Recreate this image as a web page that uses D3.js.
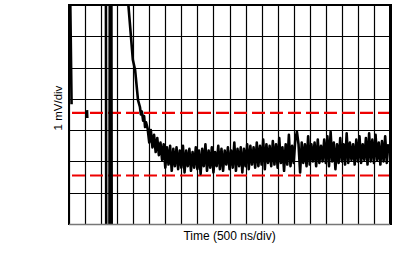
<!DOCTYPE html>
<html><head><meta charset="utf-8">
<script src="https://cdn.jsdelivr.net/npm/d3@7"></script>
<style>html,body{margin:0;padding:0;background:#fff;}svg{display:block;}</style>
</head><body><div id="chart"></div>
<script>
// Time in microseconds (500 ns/div, 20 divisions), voltage in divisions (1 mV/div, 7 divisions)
const xDomain = [0, 10];
const yDomain = [0, 7];
const xTicks = d3.range(0, 10.001, 0.5);
const yTicks = [0, 1, 2, 3, 4, 5, 6, 7];
const limitLevels = [3.55, 1.55];
const xLabel = "Time (500 ns/div)";
const yLabel = "1 mV/div";

// Early ringing (partly off-screen), null = gap
const earlyT = [0.03, 0.08, null, 0.56, 0.57, null, 1.15, 1.16, null, 1.26, 1.27, null, 1.32, 1.33, null,
  1.81, 1.85, 1.99, 2.06, 2.12, 2.15, 2.21, 2.24, 2.27, 2.31, 2.34, 2.37, 2.40];
const earlyV = [7.9, 3.83, null, 3.64, 3.39, null, 7.5, -0.5, null, -0.5, 7.5, null, 7.5, -0.5, null,
  7.4, 7.0, 5.24, 4.92, 4.28, 3.96, 3.74, 3.5, 3.6, 3.3, 3.45, 3.1, 3.25];

// Settling noise, sampled every 0.05 us from 2.45 us
const noiseStart = 2.45, noiseStep = 0.05;
const noiseV = [
  3.05, 2.6, 3.0, 2.45, 2.85, 2.3, 2.75, 2.2, 2.6, 2.05,
  2.55, 1.8, 2.45, 1.9, 2.5, 1.7, 2.4, 1.85, 2.45, 1.75,
  2.35, 1.8, 2.5, 1.65, 2.35, 1.85, 2.4, 1.7, 2.3, 1.8,
  2.45, 1.75, 2.35, 1.6, 2.4, 1.85, 2.55, 1.7, 2.35, 1.8,
  2.45, 1.65, 2.3, 1.85, 2.5, 1.75, 2.4, 1.7, 2.35, 1.9,
  2.45, 1.75, 2.35, 1.8, 2.6, 1.7, 2.4, 1.85, 2.45, 1.65,
  2.4, 1.85, 2.55, 1.75, 2.5, 1.9, 2.45, 1.8, 2.6, 1.85,
  2.5, 1.9, 2.7, 1.75, 2.55, 1.95, 2.5, 1.85, 2.65, 1.9,
  2.55, 1.8, 2.75, 1.95, 2.45, 1.7, 2.55, 1.9, 2.85, 1.85,
  2.5, 1.95, 2.7, 2.95, 2.55, 1.65, 2.6, 1.95, 2.55, 1.85,
  2.8, 1.9, 2.55, 2.0, 2.6, 1.85, 2.7, 1.95, 2.5, 2.0,
  2.7, 1.95, 2.8, 1.85, 2.95, 2.0, 2.6, 1.75, 2.55, 1.95,
  2.75, 2.0, 2.55, 1.9, 2.9, 1.95, 2.6, 2.05, 2.55, 1.9,
  2.7, 2.0, 2.8, 1.95, 2.55, 2.05, 2.75, 1.9, 2.9, 2.0,
  2.7, 1.95, 2.85, 2.05, 2.6, 1.9, 2.65, 2.0, 2.8, 1.95, 2.55
];

const W = 407, H = 267;
const L = 69, R = 390, T = 5, B = 224;
const svg = d3.select("#chart").append("svg").attr("width", W).attr("height", H);
const x = d3.scaleLinear().domain(xDomain).range([L, R]);
const y = d3.scaleLinear().domain(yDomain).range([B, T]);

svg.append("defs").append("clipPath").attr("id", "clip")
  .append("rect").attr("x", L).attr("y", T).attr("width", R - L).attr("height", B - T);

// grid
const grid = svg.append("g");
grid.selectAll("line.v").data(xTicks).join("line")
  .attr("x1", d => Math.round(x(d)) + 0.5).attr("x2", d => Math.round(x(d)) + 0.5)
  .attr("y1", T).attr("y2", B).attr("stroke", "#000").attr("stroke-width", 1.2);
grid.selectAll("line.h").data(yTicks).join("line")
  .attr("x1", L).attr("x2", R)
  .attr("y1", d => Math.round(y(d)) + 0.5).attr("y2", d => Math.round(y(d)) + 0.5)
  .attr("stroke", "#000").attr("stroke-width", 1.2);

// limit lines
svg.append("g").selectAll("line").data(limitLevels).join("line")
  .attr("x1", L).attr("x2", R).attr("y1", d => y(d)).attr("y2", d => y(d))
  .attr("stroke", "#ee0000").attr("stroke-width", 2.2)
  .attr("stroke-dasharray", "13,5").attr("stroke-dashoffset", -3);

// trace
const earlyData = earlyT.map((t, i) => [t, earlyV[i]]);
const noiseData = noiseV.map((v, i) => [noiseStart + i * noiseStep, v]);
const line = d3.line().defined(d => d[0] !== null && d[1] !== null).x(d => x(d[0])).y(d => y(d[1]));
const tr = svg.append("g").attr("clip-path", "url(#clip)");
tr.append("path").datum(earlyData.concat(noiseData)).attr("d", line)
  .attr("fill", "none").attr("stroke", "#000").attr("stroke-width", 2.6).attr("stroke-linejoin", "round");

// border
svg.append("line").attr("x1", L).attr("x2", R).attr("y1", T).attr("y2", T).attr("stroke", "#000").attr("stroke-width", 2);
svg.append("line").attr("x1", L).attr("x2", L).attr("y1", T - 1).attr("y2", B + 1).attr("stroke", "#000").attr("stroke-width", 2);
svg.append("line").attr("x1", R + 0.5).attr("x2", R + 0.5).attr("y1", T - 1).attr("y2", B + 1).attr("stroke", "#000").attr("stroke-width", 3);
svg.append("line").attr("x1", L).attr("x2", R).attr("y1", B + 0.5).attr("y2", B + 0.5).attr("stroke", "#777").attr("stroke-width", 1.5);

// labels
svg.append("text").attr("x", (L + R) / 2).attr("y", 240).attr("text-anchor", "middle")
  .attr("font-family", "Liberation Sans, Arial, sans-serif").attr("font-size", 12).attr("fill", "#000").text(xLabel);
svg.append("text").attr("transform", "translate(62,108) rotate(-90)").attr("text-anchor", "middle")
  .attr("font-family", "Liberation Sans, Arial, sans-serif").attr("font-size", 11.5).attr("fill", "#000").text(yLabel);
</script></body></html>
